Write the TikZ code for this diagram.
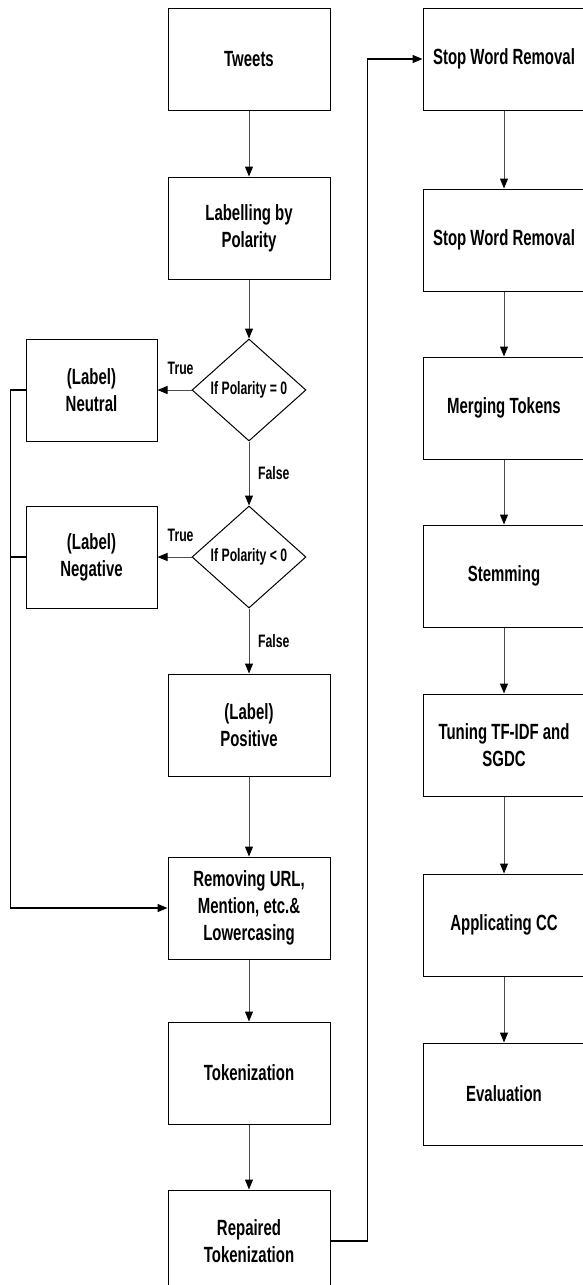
\documentclass[tikz,border=0pt]{standalone}
\usepackage{fontspec}
\setmainfont{Liberation Sans}[FakeStretch=0.68]
\usepackage{tikz}
\usetikzlibrary{shapes.geometric, arrows.meta, positioning, calc}
\tikzstyle{process} = [rectangle, minimum width=81pt, minimum height=51pt, text centered, align=center, draw=black, line width=0.5pt, font=\bfseries\fontsize{11}{13.5}\selectfont]
\tikzstyle{labelbox} = [process, minimum width=65.5pt]
\tikzstyle{decision} = [diamond, aspect=1.12, minimum width=57pt, minimum height=51pt, inner sep=0pt, text centered, draw=black, line width=0.5pt, font=\bfseries\fontsize{9}{11}\selectfont]
\tikzstyle{arrow} = [line width=0.5pt, draw=black!70, -{Triangle[length=5pt,width=4pt,color=black]}]
\tikzstyle{rail} = [line width=0.7pt, draw=black]
\tikzstyle{cond} = [font=\bfseries\fontsize{9}{11}\selectfont]

\begin{document}
\begin{tikzpicture}
        \useasboundingbox (0,0) rectangle (291.5pt,-642.5pt);
        \clip (0,0) rectangle (291.5pt,-642.5pt);

        % labelling and preprocessing
        \node[process] (tweets) at (124.5pt,-29.5pt) {Tweets};
        \node[process, below=33pt of tweets] (labelling) {Labelling by\\Polarity};
        \node[decision, below=29.5pt of labelling] (ifzero) {If Polarity = 0};
        \node[labelbox, left=17pt of ifzero] (neutral) {(Label)\\Neutral};
        \node[decision, below=32pt of ifzero] (ifneg) {If Polarity < 0};
        \node[labelbox, left=17pt of ifneg] (negative) {(Label)\\Negative};
        \node[process, below=32.5pt of ifneg] (positive) {(Label)\\Positive};
        \node[process, below=40pt of positive] (removing) {Removing URL,\\Mention, etc.\&\\Lowercasing};
        \node[process, below=31pt of removing] (tokenization) {Tokenization};
        \node[process, below=32.5pt of tokenization] (repaired) {Repaired\\Tokenization};

        % second column
        \node[process] (stopword) at (252pt,-29.5pt) {Stop Word Removal};
        \node[process, below=39pt of stopword] (stopword2) {Stop Word Removal};
        \node[process, below=32.5pt of stopword2] (merging) {Merging Tokens};
        \node[process, below=32.5pt of merging] (stemming) {Stemming};
        \node[process, below=33pt of stemming] (tuning) {Tuning TF-IDF and\\SGDC};
        \node[process, below=38.5pt of tuning] (applicating) {Applicating CC};
        \node[process, below=33pt of applicating] (evaluation) {Evaluation};

        \draw[arrow] (tweets) -- (labelling);
        \draw[arrow] (labelling) -- (ifzero);
        \draw[arrow] (ifzero) -- node[cond, above=4pt, pos=0.32] {True} (neutral);
        \draw[arrow] (ifzero) -- node[cond, right=1pt] {False} (ifneg);
        \draw[arrow] (ifneg) -- node[cond, above=4pt, pos=0.32] {True} (negative);
        \draw[arrow] (ifneg) -- node[cond, right=1pt] {False} (positive);
        \draw[arrow] (positive) -- (removing);
        \draw[arrow] (removing) -- (tokenization);
        \draw[arrow] (tokenization) -- (repaired);

        \coordinate[left=7.5pt of neutral.west] (railtop);
        \draw[rail, -{Triangle[length=5pt,width=4pt]}] (neutral.west) -- (railtop) |- (removing.west);
        \draw[rail] (negative.west) -- (negative.west -| railtop);

        \coordinate[right=18.5pt of repaired.east] (railbend);
        \draw[rail, -{Triangle[length=5pt,width=4pt]}] (repaired.east) -- (railbend) |- (stopword.west);

        \draw[arrow] (stopword) -- (stopword2);
        \draw[arrow] (stopword2) -- (merging);
        \draw[arrow] (merging) -- (stemming);
        \draw[arrow] (stemming) -- (tuning);
        \draw[arrow] (tuning) -- (applicating);
        \draw[arrow] (applicating) -- (evaluation);
    \end{tikzpicture}
\end{document}
